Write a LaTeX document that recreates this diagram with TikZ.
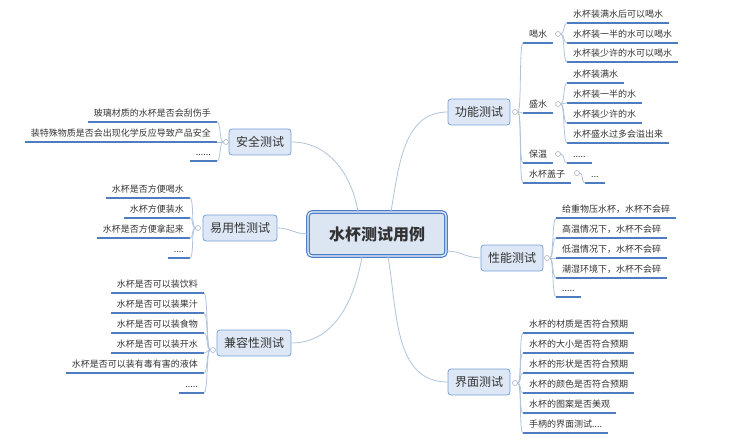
\documentclass[tikz,border=0pt]{standalone}
\usepackage{fontspec}
\setmainfont{Noto Sans CJK SC}
\definecolor{rootline}{HTML}{4F7FC9}
\definecolor{rootfill}{HTML}{DCE6F3}
\definecolor{topicline}{HTML}{76A0D8}
\definecolor{topicfill}{HTML}{DDE7F5}
\definecolor{ulineblue}{HTML}{4D7CC0}
\definecolor{connline}{HTML}{AFC3DB}
\definecolor{markline}{HTML}{A8B4C4}
\definecolor{textdark}{HTML}{333333}

\begin{document}
\begin{tikzpicture}[
    x=1pt, y=-1pt,
    root/.style={rectangle, rounded corners=4pt, draw=rootline, line width=1.2pt, double=rootfill!50!white, double distance=1.2pt, fill=rootfill, minimum width=138pt, minimum height=44pt, font=\fontsize{16}{18}\selectfont\bfseries, text=textdark},
    topic/.style={rectangle, rounded corners=3pt, draw=topicline, line width=0.8pt, fill=topicfill, minimum height=26pt, inner xsep=7pt, font=\fontsize{12}{14}\selectfont, text=textdark},
    leaf/.style={inner xsep=6pt, inner ysep=4pt, text height=7.5pt, text depth=1.5pt, font=\fontsize{9}{11}\selectfont, text=textdark, append after command={(\tikzlastnode.south west) edge[uline] (\tikzlastnode.south east)}},
    lleaf/.style={leaf, anchor=south east},
    rleaf/.style={leaf, anchor=south west},
    marker/.style={circle, draw=markline, fill=white, line width=0.6pt, inner sep=0pt, minimum size=5pt},
    conn/.style={draw=connline, line width=0.8pt},
    uline/.style={draw=ulineblue, line width=1.3pt},
    rbr/.style={to path={.. controls ([xshift=4pt]\tikztostart) and ([xshift=-4pt]\tikztotarget) .. (\tikztotarget)}},
    lbr/.style={to path={.. controls ([xshift=-4pt]\tikztostart) and ([xshift=4pt]\tikztotarget) .. (\tikztotarget)}}
]
\useasboundingbox (0, 0) rectangle (750, 441);

% Root
\node[root] (root) at (377, 234) {水杯测试用例};

% Main topics
\node[topic] (safe) at (260, 142) {安全测试};
\node[topic] (ease) at (240, 228) {易用性测试};
\node[topic] (compat) at (254, 343) {兼容性测试};
\node[topic] (func) at (479, 112) {功能测试};
\node[topic] (perf) at (512, 258) {性能测试};
\node[topic] (ui) at (479, 382) {界面测试};

% Markers
\node[marker] (safem) at (226, 142) {};
\node[marker] (easem) at (198, 228) {};
\node[marker] (compm) at (213, 350) {};
\node[marker] (funcm) at (515, 112) {};
\node[marker] (perfm) at (547, 258) {};
\node[marker] (uim) at (515, 383) {};

% Safety
\node[lleaf] (s1) at (217, 122) {玻璃材质的水杯是否会刮伤手};
\node[lleaf] (s2) at (217, 142) {装特殊物质是否会出现化学反应导致产品安全};
\node[lleaf] (s3) at (217, 161) {......};

% Usability
\node[lleaf] (e1) at (190, 198) {水杯是否方便喝水};
\node[lleaf] (e2) at (190, 218) {水杯方便装水};
\node[lleaf] (e3) at (190, 238) {水杯是否方便拿起来};
\node[lleaf] (e4) at (190, 258) {....};

% Compatibility
\node[lleaf] (c1) at (204, 293) {水杯是否可以装饮料};
\node[lleaf] (c2) at (204, 313) {水杯是否可以装果汁};
\node[lleaf] (c3) at (204, 333) {水杯是否可以装食物};
\node[lleaf] (c4) at (204, 353) {水杯是否可以装开水};
\node[lleaf] (c5) at (204, 373) {水杯是否可以装有毒有害的液体};
\node[lleaf] (c6) at (204, 393) {.....};

% Function
\node[rleaf] (f1) at (523, 43) {喝水};
\node[rleaf] (f2) at (523, 113) {盛水};
\node[rleaf] (f3) at (523, 163) {保温};
\node[rleaf] (f4) at (523, 183) {水杯盖子};
\node[marker] (hm) at (558, 34) {};
\node[marker] (wm) at (558, 104) {};
\node[marker] (bm) at (558, 154) {};
\node[marker] (gm) at (577, 173) {};
\node[rleaf] (h1) at (567, 23) {水杯装满水后可以喝水};
\node[rleaf] (h2) at (567, 43) {水杯装一半的水可以喝水};
\node[rleaf] (h3) at (567, 62) {水杯装少许的水可以喝水};
\node[rleaf] (w1) at (567, 83) {水杯装满水};
\node[rleaf] (w2) at (567, 103) {水杯装一半的水};
\node[rleaf] (w3) at (567, 123) {水杯装少许的水};
\node[rleaf] (w4) at (567, 143) {水杯盛水过多会溢出来};
\node[rleaf] (b1) at (567, 163) {.....};
\node[rleaf] (g1) at (585, 183) {...};

% Performance
\node[rleaf] (p1) at (556, 218) {给重物压水杯，水杯不会碎};
\node[rleaf] (p2) at (556, 238) {高温情况下，水杯不会碎};
\node[rleaf] (p3) at (556, 258) {低温情况下，水杯不会碎};
\node[rleaf] (p4) at (556, 278) {潮湿环境下，水杯不会碎};
\node[rleaf] (p5) at (556, 297) {.....};

% Interface
\node[rleaf] (u1) at (523, 333) {水杯的材质是否符合预期};
\node[rleaf] (u2) at (523, 353) {水杯的大小是否符合预期};
\node[rleaf] (u3) at (523, 373) {水杯的形状是否符合预期};
\node[rleaf] (u4) at (523, 393) {水杯的颜色是否符合预期};
\node[rleaf] (u5) at (523, 413) {水杯的图案是否美观};
\node[rleaf] (u6) at (523, 433) {手柄的界面测试....};

% Lines - root to topics
\draw[conn] ([xshift=-19pt]root.north) to[out=100, in=0] (safe.east);
\draw[conn] (root.west) to[out=180, in=0] (ease.east);
\draw[conn] ([xshift=-15pt]root.south) to[out=-100, in=0] (compat.east);
\draw[conn] ([xshift=14pt]root.north) to[out=80, in=180] (func.west);
\draw[conn] ([yshift=-17pt]root.east) to[out=0, in=180] (perf.west);
\draw[conn] ([xshift=11pt]root.south) to[out=-80, in=180] (ui.west);

% Lines - left side
\draw[conn] (safem.west) to[lbr] (s1.south east);
\draw[conn] (safem.west) to[lbr] (s2.south east);
\draw[conn] (safem.west) to[lbr] (s3.south east);
\draw[conn] (easem.west) to[lbr] (e1.south east);
\draw[conn] (easem.west) to[lbr] (e2.south east);
\draw[conn] (easem.west) to[lbr] (e3.south east);
\draw[conn] (easem.west) to[lbr] (e4.south east);
\draw[conn] (compm.west) to[lbr] (c1.south east);
\draw[conn] (compm.west) to[lbr] (c2.south east);
\draw[conn] (compm.west) to[lbr] (c3.south east);
\draw[conn] (compm.west) to[lbr] (c4.south east);
\draw[conn] (compm.west) to[lbr] (c5.south east);
\draw[conn] (compm.west) to[lbr] (c6.south east);

% Lines - right side
\draw[conn] (funcm.east) to[rbr] (f1.south west);
\draw[conn] (funcm.east) to[rbr] (f2.south west);
\draw[conn] (funcm.east) to[rbr] (f3.south west);
\draw[conn] (funcm.east) to[rbr] (f4.south west);
\draw[conn] (hm.east) to[rbr] (h1.south west);
\draw[conn] (hm.east) to[rbr] (h2.south west);
\draw[conn] (hm.east) to[rbr] (h3.south west);
\draw[conn] (wm.east) to[rbr] (w1.south west);
\draw[conn] (wm.east) to[rbr] (w2.south west);
\draw[conn] (wm.east) to[rbr] (w3.south west);
\draw[conn] (wm.east) to[rbr] (w4.south west);
\draw[conn] (bm.east) to[rbr] (b1.south west);
\draw[conn] (gm.east) to[rbr] (g1.south west);
\draw[conn] (perfm.east) to[rbr] (p1.south west);
\draw[conn] (perfm.east) to[rbr] (p2.south west);
\draw[conn] (perfm.east) to[rbr] (p3.south west);
\draw[conn] (perfm.east) to[rbr] (p4.south west);
\draw[conn] (perfm.east) to[rbr] (p5.south west);
\draw[conn] (uim.east) to[rbr] (u1.south west);
\draw[conn] (uim.east) to[rbr] (u2.south west);
\draw[conn] (uim.east) to[rbr] (u3.south west);
\draw[conn] (uim.east) to[rbr] (u4.south west);
\draw[conn] (uim.east) to[rbr] (u5.south west);
\draw[conn] (uim.east) to[rbr] (u6.south west);

\end{tikzpicture}
\end{document}
